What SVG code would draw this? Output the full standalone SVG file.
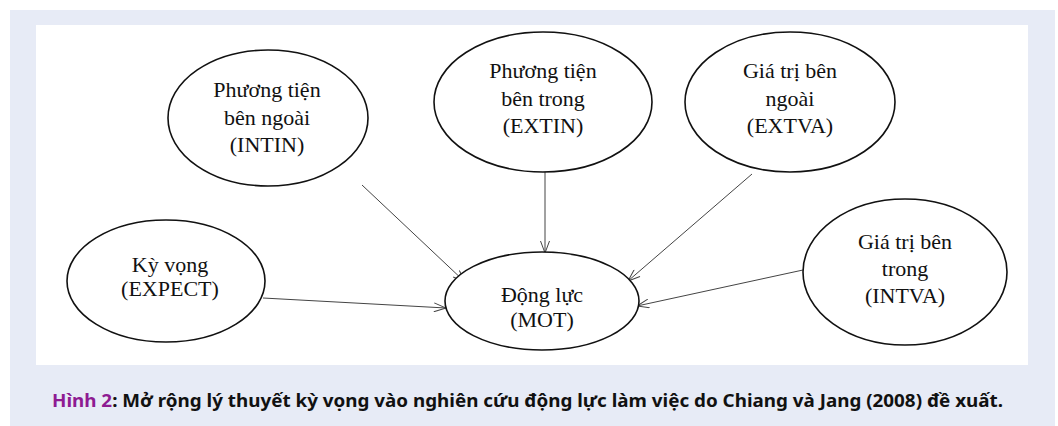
<svg xmlns="http://www.w3.org/2000/svg" width="1058" height="426" viewBox="0 0 1058 426">
<style>
.node ellipse{fill:#fff;stroke:#111;stroke-width:1.6}
.node text{font-family:"Liberation Serif","Times New Roman",serif;font-size:22px;fill:#111;text-anchor:middle}
.conn line{stroke:#444;stroke-width:1}
.cap{font-family:"Noto Sans","Open Sans",sans-serif;font-weight:bold;font-size:17px;fill:#111}
</style>
<defs>
<marker id="arr" viewBox="0 0 14 10" refX="13" refY="5" markerWidth="14" markerHeight="10" markerUnits="userSpaceOnUse" orient="auto">
<path d="M1,0.5 L13,5 L1,9.5" fill="none" stroke="#444" stroke-width="1"/>
</marker>
</defs>
<rect x="0" y="0" width="1058" height="426" fill="#fff"/>
<rect x="10" y="10" width="1045" height="416" fill="#e7ebf6"/>
<rect x="36" y="25" width="992" height="340" fill="#fff"/>
<g id="connectors" class="conn">
<line x1="362" y1="185" x2="465" y2="282" marker-end="url(#arr)"/>
<line x1="545" y1="172" x2="545" y2="253" marker-end="url(#arr)"/>
<line x1="752" y1="174" x2="628" y2="281" marker-end="url(#arr)"/>
<line x1="263" y1="298" x2="446" y2="308" marker-end="url(#arr)"/>
<line x1="803" y1="270" x2="637" y2="306" marker-end="url(#arr)"/>
</g>
<g id="intin" class="node">
<ellipse cx="268" cy="118" rx="100" ry="68"/>
<text x="267" y="97">Phương tiện</text>
<text x="267" y="125">bên ngoài</text>
<text x="267" y="152">(INTIN)</text>
</g>
<g id="extin" class="node">
<ellipse cx="543" cy="102" rx="109" ry="70"/>
<text x="543" y="78">Phương tiện</text>
<text x="543" y="105.5">bên trong</text>
<text x="543" y="133">(EXTIN)</text>
</g>
<g id="extva" class="node">
<ellipse cx="790" cy="102" rx="105" ry="70"/>
<text x="790" y="78">Giá trị bên</text>
<text x="790" y="105.5">ngoài</text>
<text x="790" y="133">(EXTVA)</text>
</g>
<g id="expect" class="node">
<ellipse cx="166" cy="281" rx="99" ry="61"/>
<text x="170" y="272">Kỳ vọng</text>
<text x="170" y="296">(EXPECT)</text>
</g>
<g id="mot" class="node">
<ellipse cx="542" cy="301" rx="97" ry="49"/>
<text x="542" y="302">Động lực</text>
<text x="542" y="327">(MOT)</text>
</g>
<g id="intva" class="node">
<ellipse cx="905" cy="272" rx="102" ry="73"/>
<text x="905" y="249">Giá trị bên</text>
<text x="905" y="276">trong</text>
<text x="905" y="303">(INTVA)</text>
</g>
<text class="cap" x="52" y="407" textLength="951" lengthAdjust="spacingAndGlyphs"><tspan fill="#8e1b92">Hình 2</tspan>: Mở rộng lý thuyết kỳ vọng vào nghiên cứu động lực làm việc do Chiang và Jang (2008) đề xuất.</text>
</svg>
